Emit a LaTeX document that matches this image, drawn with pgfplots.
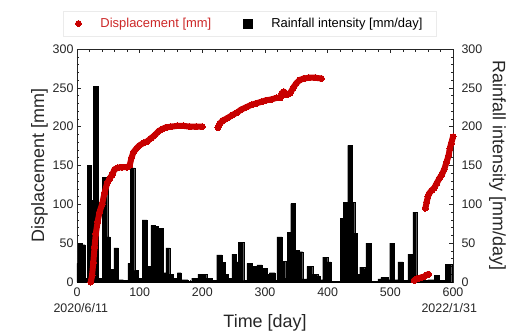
\documentclass[border=0pt]{standalone}
\usepackage{fontspec}
\setmainfont{Liberation Sans}
\usepackage{pgfplots}
\pgfplotsset{compat=1.18}
\definecolor{dispred}{RGB}{200,0,0}
\definecolor{legred}{RGB}{205,40,40}
\begin{document}
\begin{tikzpicture}
\path (-77bp,-51bp) rectangle (441bp,282bp);
\begin{axis}[
  name=main, at={(0,0)}, anchor=south west,
  scale only axis, width=376bp, height=233bp,
  xmin=0, xmax=600, ymin=0, ymax=300,
  xtick={0,100,...,600}, ytick={0,50,...,300},
  minor x tick num=4, minor y tick num=4,
  tick align=inside,
  major tick length=4bp, minor tick length=2.5bp,
  axis line style={black!85, line width=0.6pt},
  every tick/.style={black!85, line width=0.5pt},
  /pgf/number format/assume math mode=true,
  tick label style={font=\fontsize{12.5}{14}\selectfont, black!85},
  xticklabel style={yshift=-2bp},
  ylabel={Displacement [mm]},
  ylabel style={font=\fontsize{18}{20}\selectfont, black!85},
  ylabel shift=-2bp,
  legend style={at={(0.46,1.055)}, anchor=south, legend columns=2,
    draw=black!8, fill=white, font=\fontsize{13}{15}\selectfont,
    /tikz/every even column/.append style={column sep=30bp},
    /tikz/every odd column/.append style={column sep=17bp},
    inner xsep=12bp, inner ysep=5bp},
  legend cell align=left,
  clip=false,
]
\addplot[ybar interval, fill=black, draw=black, line width=0.2pt, forget plot] coordinates {
(0,24)(2,50)(8,48)(13,5)(16,150)(22,105)(26,252)(34,5)(40,135)(49,58)(53,16)(59,44)(66,3)(74,2)(81,24)(85,147)(92,15)(98,5)(104,80)(112,20)(118,73)(124,72)(129,69)(137,12)(142,44)(148,10)(153,5)(160,12)(166,3)(177,1)(183,5)(193,10)(207,5)(216,2)(223,35)(231,25)(236,10)(241,5)(247,36)(254,26)(257,51)(266,2)(271,24)(279,20)(287,22)(295,18)(303,10)(307,12)(316,2)(319,58)(327,27)(333,5)(336,64)(341,101)(348,41)(355,39)(360,4)(367,20)(376,10)(384,8)(388,3)(392,32)(400,26)(405,1)(420,82)(425,103)(432,176)(439,103)(443,63)(447,10)(451,19)(459,17)(461,50)(469,1)(480,4)(485,6)(497,3)(499,50)(506,3)(512,26)(520,2)(528,36)(536,90)(542,2)(560,3)(570,9)(578,2)(588,23)(598,0)
};
\pgfplotsset{dispstyle/.style={dispred, line width=6bp, line cap=round, line join=round, mark=*, mark size=3bp, mark options={fill=dispred, draw=dispred, line width=0pt}, forget plot}}
\addplot[dispstyle] coordinates {
(22,0)(24,8)(26,25)(28,45)(30,62)(33,78)(36,90)(40,100)(44,115)(48,127)(52,133)(56,138)(60,145)(65,147)(72,148)(80,148)(84,150)(87,160)(90,167)(95,172)(100,176)(106,179)(112,181)(118,185)(124,189)(130,194)(136,197)(142,199)(150,200)(160,201)(170,201)(180,200)(190,200)(200,200)
};
\addplot[dispstyle] coordinates {
(225,199)(228,204)(233,208)(240,211)(248,215)(255,218)(262,222)(270,225)(278,228)(286,230)(294,232)(302,234)(310,235)(318,237)(324,237)(327,243)(330,245)(335,241)(340,243)(345,250)(350,256)(355,260)(362,262)(370,263)(380,263)(390,262)
};
\addplot[dispstyle] coordinates {
(538,2)(542,4)(546,5)(550,6)(554,7)(558,9)(561,10)
};
\addplot[dispstyle] coordinates {
(556,95)(558,103)(560,110)(562,114)(566,118)(570,121)(574,127)(578,133)(582,138)(586,145)(590,155)(593,163)(595,172)(597,178)(600,187)
};
\addlegendimage{only marks, mark=*, mark size=3bp, dispred, mark options={line width=0pt}}
\addlegendentry{\textcolor{legred}{Displacement [mm]}}
\addlegendimage{only marks, mark=square*, mark size=4.5bp, black, mark options={line width=0pt}}
\addlegendentry{Rainfall intensity [mm/day]}
\node[font=\fontsize{12.5}{14}\selectfont, black!85, anchor=north] at (rel axis cs:0.01,0) [yshift=-18bp] {2020/6/11};
\node[font=\fontsize{12.5}{14}\selectfont, black!85, anchor=north] at (rel axis cs:0.99,0) [yshift=-18bp] {2022/1/31};
\node[font=\fontsize{18}{20}\selectfont, black!85, anchor=north] at (rel axis cs:0.5,0) [yshift=-29bp] {Time [day]};
\end{axis}
\begin{axis}[
  at={(0,0)}, anchor=south west,
  scale only axis, width=376bp, height=233bp,
  xmin=0, xmax=600, ymin=0, ymax=300,
  axis x line=none, axis y line*=right,
  y axis line style={draw=none},
  ytick={0,50,...,300},
  major tick length=0pt,
  /pgf/number format/assume math mode=true,
  tick label style={font=\fontsize{12.5}{14}\selectfont, black!85},
  yticklabel style={xshift=5bp},
  ylabel={Rainfall intensity [mm/day]},
  ylabel style={font=\fontsize{18}{20}\selectfont, black!85, rotate=180},
]
\end{axis}
\end{tikzpicture}
\end{document}
